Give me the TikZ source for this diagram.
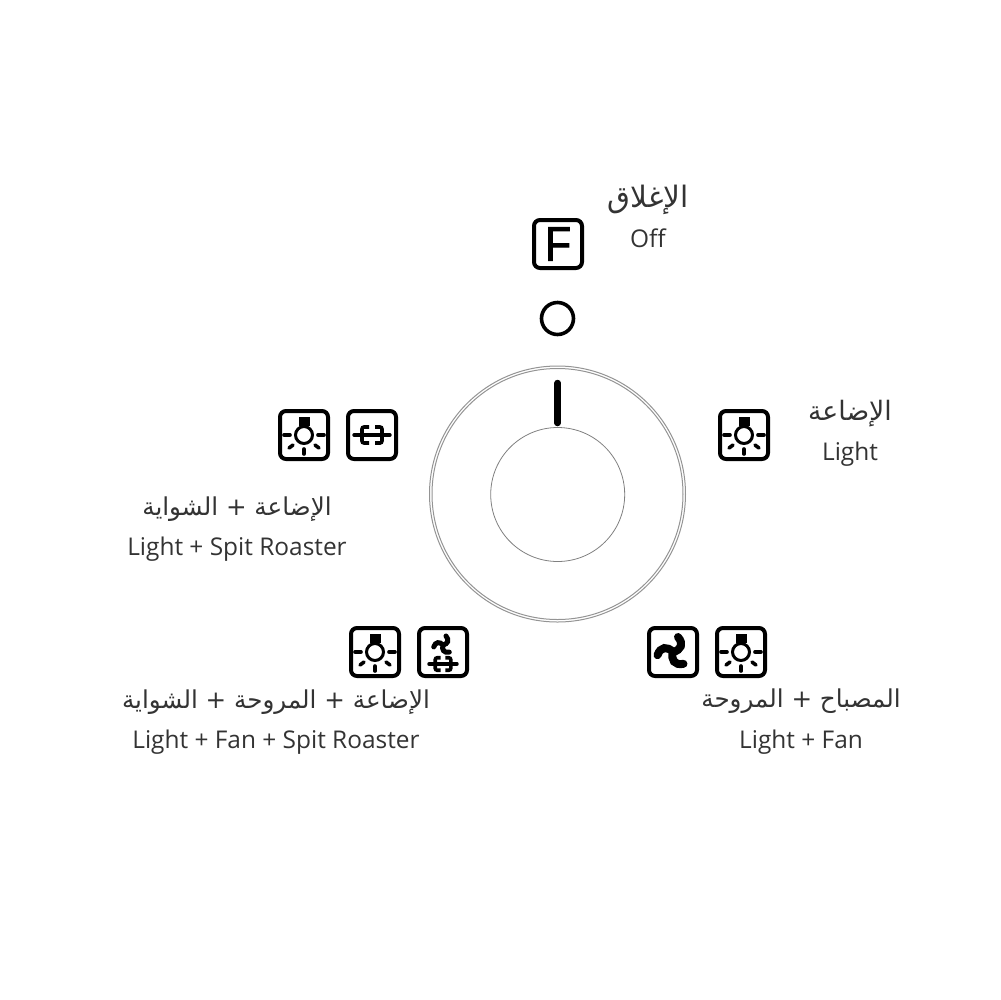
\documentclass[tikz,border=0pt]{standalone}
\usepackage{fontspec}
\setmainfont{Open Sans}
\newfontfamily\arabicfont[Script=Arabic]{DejaVu Sans}
\newfontfamily\keyfont[FakeBold=1.5,FakeStretch=0.88]{Liberation Sans}
\TeXXeTstate=1
\usepackage{tikz}
\tikzstyle{iconbox} = [rectangle, draw=black, line width=0.4mm, rounded corners=0.6mm,
                     minimum size=4.8mm, inner sep=0pt]
\tikzstyle{latin} = [text=black!80, font=\fontsize{6.95}{9}\selectfont, inner sep=0pt, anchor=base]
\tikzstyle{arabic} = [text=black!80, font=\fontsize{7.0}{9}\selectfont\arabicfont, inner sep=0pt, anchor=base]
\tikzstyle{ray} = [line width=0.36mm, line cap=round]
\tikzset{
lampicon/.pic={
  \node[iconbox] (-box) at (0,0) {};
  \draw[line width=0.3mm] (0,0) circle (8.5);
  \fill (-5.5,-18) rectangle (5.5,-9);
  \draw[ray] (-20,0) -- (-14,0);
  \draw[ray] (14,0) -- (20,0);
  \draw[ray] (-15,13) -- (-11,10);
  \draw[ray] (15,13) -- (11,10);
  \draw[ray] (0,14) -- (0,19);
},
spitmark/.pic={
  \draw[line width=0.34mm, line cap=round] (-18,0) -- (18,0);
  \draw[line width=0.36mm, rounded corners=0.2mm] (-3,-8) -- (-10,-8) -- (-10,8) -- (-3,8);
  \draw[line width=0.36mm, rounded corners=0.2mm] (3,-8) -- (10,-8) -- (10,8) -- (3,8);
},
fanmark/.pic={
  \foreach \ang in {0,120,240}
    \draw[rotate=\ang, line width=#1, line cap=round] (0,0) .. controls (8,-2) and (11,-8) .. (5,-15);
},
spiticon/.pic={
  \node[iconbox] (-box) at (0,0) {};
  \pic at (0,0) {spitmark};
},
fanicon/.pic={
  \node[iconbox] (-box) at (0,0) {};
  \pic at (0,0) {fanmark=0.8mm};
},
fanspiticon/.pic={
  \node[iconbox] (-box) at (0,0) {};
  \pic[scale=0.6] at (0,-7) {fanmark=0.5mm};
  \pic[scale=0.78] at (0,12) {spitmark};
}
}
\begin{document}
\begin{tikzpicture}[x=0.1mm,y=-0.1mm]
\useasboundingbox (0,0) rectangle (1000,1000);

%Knob
\draw[black!42, line width=0.1mm] (557.5,494) circle (128);
\draw[black!42, line width=0.1mm] (557.5,494) circle (125.5);
\draw[black!50, line width=0.08mm] (557.7,494.5) circle (67);
\coordinate (marktop) at (557.7,383);
\coordinate (markend) at (557.7,423);
\draw[line width=0.65mm, line cap=round] (marktop) -- (markend);

%Off
\node[iconbox, font=\fontsize{13.9}{14}\selectfont\keyfont] (keyF) at (558,244) {F};
\node[circle, draw=black, line width=0.36mm, minimum size=3.2mm, inner sep=0pt] (offdot) at (557.5,318.5) {};
\node[arabic, font=\fontsize{8.4}{9}\selectfont\arabicfont] (offar) at (648,207) {\beginR الإغلاق\endR};
\node[latin] (offen) at (648,247) {Off};

%Light
\pic (lampR) at (744,435) {lampicon};
\node[arabic, font=\fontsize{7.6}{9}\selectfont\arabicfont] (lightar) at (850,420) {\beginR الإضاعة\endR};
\node[latin] (lighten) at (850,460) {Light};

%Light + Spit
\pic (lampL) at (304,435) {lampicon};
\pic (spitL) at (372,435) {spiticon};
\node[arabic] (spitar) at (237,515) {\beginR الإضاعة + الشواية\endR};
\node[latin] (spiten) at (237,555) {Light + Spit Roaster};

%Light + Fan + Spit
\pic (lampB) at (375,652) {lampicon};
\pic (fanspit) at (443,652) {fanspiticon};
\node[arabic] (allar) at (276,708) {\beginR الإضاعة + المروحة + الشواية\endR};
\node[latin] (allen) at (276,748) {Light + Fan + Spit Roaster};

%Light + Fan
\pic (fanR) at (673,652) {fanicon};
\pic (lampF) at (741,652) {lampicon};
\node[arabic] (fanar) at (801,707) {\beginR المصباح + المروحة\endR};
\node[latin] (fanen) at (801,748) {Light + Fan};
\end{tikzpicture}
\end{document}
